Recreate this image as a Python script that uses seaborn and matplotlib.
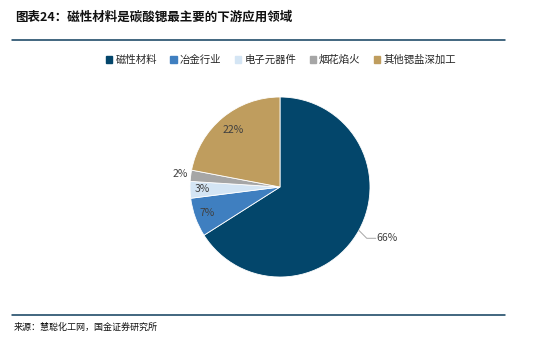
import numpy as np
import seaborn as sns
import matplotlib.pyplot as plt
from matplotlib.lines import Line2D

# data
categories = ['磁性材料', '冶金行业', '电子元器件', '烟花焰火', '其他锶盐深加工']
shares = [66, 7, 3, 2, 22]
pct_labels = ['66%', '7%', '3%', '2%', '22%']
colors = ['#03466B', '#3F7FC0', '#D4E5F4', '#A6A6A6', '#BF9D5E']
label_dist = [1.30, 0.86, 0.86, 1.12, 0.82]

sns.set_theme(style='white')
plt.rcParams['font.family'] = ['Noto Sans CJK SC', 'DejaVu Sans']

fig = plt.figure(figsize=(5.57, 3.37), dpi=100)
W, H = 557, 337

# title and rules
fig.text(15 / W, 1 - 17 / H, '图表24：磁性材料是碳酸锶最主要的下游应用领域',
         fontsize=9, fontweight='bold', style='italic', va='center', ha='left', color='#111111')
fig.add_artist(Line2D([12 / W, 505 / W], [1 - 40 / H, 1 - 40 / H], color='#0E3D5C', lw=1.1))
fig.add_artist(Line2D([12 / W, 505 / W], [1 - 315 / H, 1 - 315 / H], color='#0E3D5C', lw=1.1))
fig.text(14 / W, 1 - 327 / H, '来源：慧聪化工网，国金证券研究所',
         fontsize=6.5, va='center', ha='left', color='#111111')

# pie
cx, cy, r = 280, 187, 90
ax = fig.add_axes([(cx - r) / W, 1 - (cy + r) / H, 2 * r / W, 2 * r / H])
wedges, _ = ax.pie(shares, colors=colors, startangle=90, counterclock=False,
                   radius=1, wedgeprops=dict(edgecolor='white', linewidth=0.6))
ax.set_xlim(-1, 1)
ax.set_ylim(-1, 1)
ax.set_aspect('equal')
ax.axis('off')

for w, lab, d in zip(wedges, pct_labels, label_dist):
    ang = np.deg2rad((w.theta1 + w.theta2) / 2)
    x, y = d * np.cos(ang), d * np.sin(ang)
    if lab == '66%':
        # leader line
        x0, y0 = np.cos(ang), np.sin(ang)
        x1, y1 = 1.1 * np.cos(ang), 1.1 * np.sin(ang)
        ax.plot([x0, x1, x1 + 0.1], [y0, y1 - 0.04, y1 - 0.04], color='#A6A6A6', lw=0.7, clip_on=False)
        ax.text(x1 + 0.11, y1 - 0.04, lab, ha='left', va='center', fontsize=7.5, color='#404040')
    else:
        ax.text(x, y, lab, ha='center', va='center', fontsize=7.5, color='#404040')

handles = [plt.Rectangle((0, 0), 1, 1, color=c) for c in colors]
fig.legend(handles, categories, loc='center', bbox_to_anchor=(281 / W, 1 - 60 / H), ncol=5,
           frameon=False, fontsize=7.5, handlelength=0.6, handleheight=0.6,
           handletextpad=0.3, columnspacing=1.3)

fig.savefig('out.png', dpi=100)
